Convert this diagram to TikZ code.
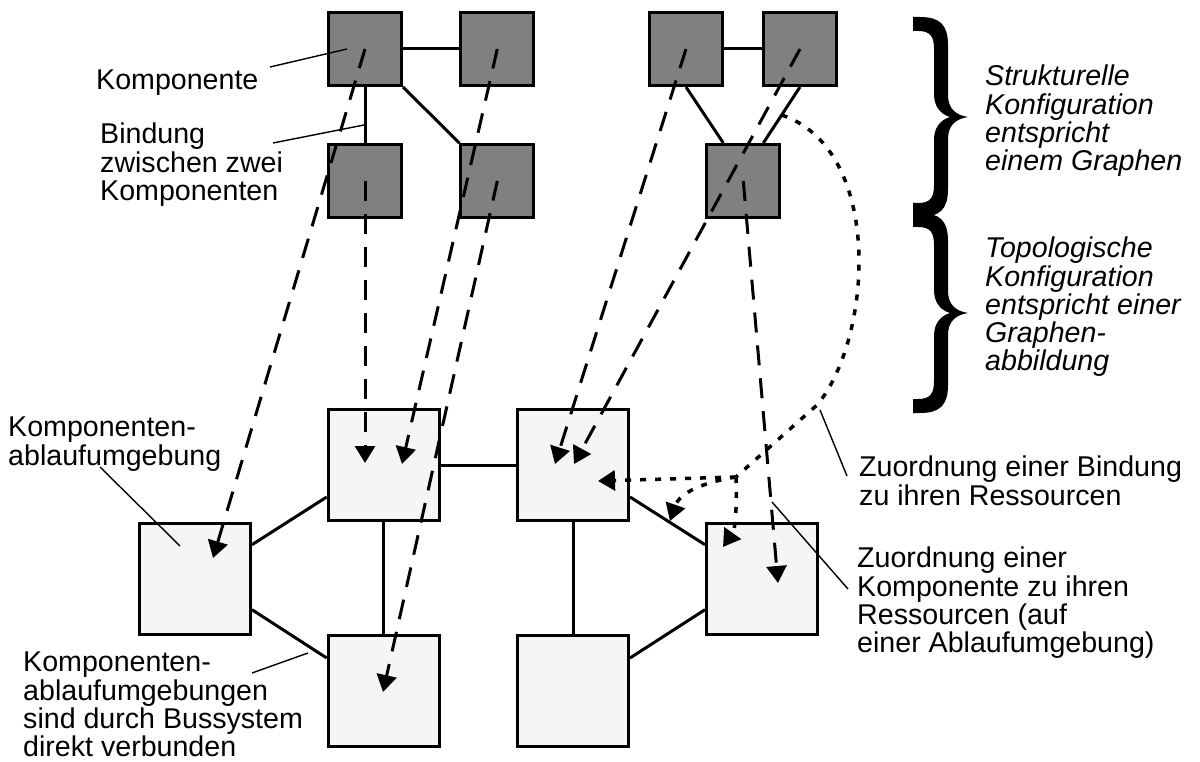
\documentclass[tikz,border=0pt]{standalone}
\usepackage{fontspec}
\setmainfont{Liberation Sans}
\usetikzlibrary{arrows.meta,calc}

\definecolor{compgray}{HTML}{808080}
\definecolor{envgray}{HTML}{F5F5F5}

\tikzset{
  curlybrace/.pic={
    \fill (0,0) -- (7,0) .. controls (27,0) and (35,8) .. (35,28) -- (35,78)
      .. controls (35,91) and (42,98) .. (55,100)
      .. controls (42,102) and (35,109) .. (35,122) -- (35,172)
      .. controls (35,192) and (27,200) .. (7,200) -- (0,200) -- (0,186) -- (5,186)
      .. controls (17,186) and (21,181) .. (21,168) -- (21,123)
      .. controls (21,111) and (27,103) .. (37,100)
      .. controls (27,97) and (21,89) .. (21,77) -- (21,32)
      .. controls (21,19) and (17,14) .. (5,14) -- (0,14) -- cycle;
  }
}

\begin{document}
\begin{tikzpicture}[x=1pt,y=-1pt,
  comp/.style={draw=black, line width=3pt, fill=compgray, minimum size=73pt, inner sep=0pt},
  env/.style={draw=black, line width=3pt, fill=envgray, minimum size=111pt, inner sep=0pt},
  link/.style={line width=3pt},
  leader/.style={line width=1.4pt},
  compmap/.style={line width=3pt, dash pattern=on 20pt off 13pt, -{Triangle[length=17pt,width=20pt]}},
  bindmap/.style={line width=3.5pt, dash pattern=on 6pt off 9pt},
  bindarrow/.style={bindmap, -{Triangle[length=17pt,width=20pt]}},
  lbl/.style={font=\fontsize{28.6}{28.2}\selectfont, align=left, inner sep=0pt, anchor=north west},
  ilbl/.style={lbl, font=\fontsize{28.6}{28.2}\selectfont\itshape}]

\useasboundingbox (0,0) rectangle (1200,762);

% components of the structural configuration
\node[comp] (A1) at (365,49) {};
\node[comp] (A2) at (497.3,49) {};
\node[comp] (A3) at (365,181) {};
\node[comp] (A4) at (497.3,181) {};
\node[comp] (B1) at (686,49) {};
\node[comp] (B2) at (800,49) {};
\node[comp] (B3) at (743.3,181) {};

% bindings
\draw[link] (A1.east) -- (A2.west);
\draw[link] (A1.south) -- (A3.north);
\draw[link] (A1.south east) -- (A4.north west);
\draw[link] (B1.east) -- (B2.west);
\draw[link] (B1.south) -- ([xshift=-20pt]B3.north);
\draw[link] (B2.south) -- ([xshift=20pt]B3.north);

% execution environments
\node[env] (C1) at (195,578.7) {};
\node[env] (C2) at (383.7,465) {};
\node[env] (C3) at (573,465) {};
\node[env] (C4) at (383.7,691) {};
\node[env] (C5) at (573,691) {};
\node[env] (C6) at (762,578.7) {};

% bus connections
\draw[link] (C2.east) -- (C3.west);
\draw[link] (C2.south) -- (C4.north);
\draw[link] (C3.south) -- (C5.north);
\draw[link] ([yshift=34pt]C1.east) -- ([yshift=-32pt]C2.west);
\draw[link] ([yshift=-31pt]C1.east) -- ([yshift=33pt]C4.west);
\draw[link] ([yshift=-32pt]C3.east) -- ([yshift=34pt]C6.west);
\draw[link] ([yshift=33pt]C5.east) -- ([yshift=-31pt]C6.west);

% target points of the mappings
\coordinate (tC1) at (213,558);
\coordinate (tC2a) at (365,463);
\coordinate (tC2b) at (402,464);
\coordinate (tC4) at (383,692);
\coordinate (tC3a) at (555,464);
\coordinate (tC3b) at (574,464);
\coordinate (tC6) at (778,583);

% component mappings
\draw[compmap] (A1.center) -- (tC1);
\draw[compmap] (A3.center) -- (tC2a);
\draw[compmap] (A2.center) -- (tC2b);
\draw[compmap] (A4.center) -- (tC4);
\draw[compmap] (B1.center) -- (tC3a);
\draw[compmap] (B2.center) -- (tC3b);
\draw[compmap] (B3.center) -- (tC6);

% binding mapping
\coordinate (bmid) at ($(B2.south)!0.5!([xshift=20pt]B3.north)$);
\coordinate (bturn) at (817,405);
\coordinate (J) at (736,477);
\coordinate (tC3c) at (598,481);
\coordinate (tLink) at (670,521);
\coordinate (tC6b) at (723,547);
\draw[bindmap] (bmid) .. controls (885,150) and (872,340) .. (bturn) -- (J);
\draw[bindarrow] (J) -- (tC3c);
\draw[bindarrow] (J) .. controls (705,482) and (680,492) .. (tLink);
\draw[bindarrow] (J) .. controls (737,512) and (735,530) .. (tC6b);

% braces
\pic at (913,17) {curlybrace};
\pic at (913,213) {curlybrace};

% labels
\node[lbl] (tKomp) at (96,70) {Komponente};
\node[lbl] (tBind) at (100,123) {Bindung\\zwischen zwei\\Komponenten};
\node[lbl] (tEnv) at (8,417) {Komponenten-\\ablaufumgebung};
\node[lbl] (tBus) at (23,652) {Komponenten-\\ablaufumgebungen\\sind durch Bussystem\\direkt verbunden};
\node[lbl] (tZB) at (859,456) {Zuordnung einer Bindung\\zu ihren Ressourcen};
\node[lbl] (tZK) at (857,547) {Zuordnung einer\\Komponente zu ihren\\Ressourcen (auf\\einer Ablaufumgebung)};
\node[ilbl] (tStr) at (985,65) {Strukturelle\\Konfiguration\\entspricht\\einem Graphen};
\node[ilbl] (tTop) at (985,237) {Topologische\\Konfiguration\\entspricht einer\\Graphen-\\abbildung};

% leader lines
\coordinate (lK1) at (270,67);  \coordinate (lK2) at (347,49);
\coordinate (lB1) at (273,143); \coordinate (lB2) at (364,125);
\coordinate (lE1) at (100,467); \coordinate (lE2) at (180,546);
\coordinate (lS1) at (252,673); \coordinate (lS2) at (308,653);
\coordinate (lZ1) at (820,410); \coordinate (lZ2) at (847,476);
\coordinate (lR1) at (772,502); \coordinate (lR2) at (848,589);
\draw[leader] (lK1) -- (lK2);
\draw[leader] (lB1) -- (lB2);
\draw[leader] (lE1) -- (lE2);
\draw[leader] (lS1) -- (lS2);
\draw[leader] (lZ1) -- (lZ2);
\draw[leader] (lR1) -- (lR2);

\end{tikzpicture}
\end{document}
